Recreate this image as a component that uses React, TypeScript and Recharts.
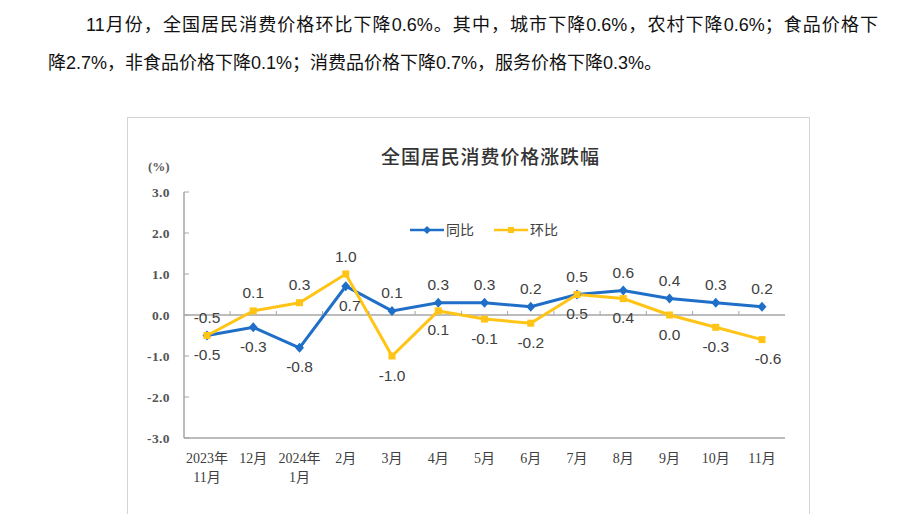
import React from "react"
import {
  LineChart,
  Line,
  XAxis,
  YAxis,
  ReferenceLine,
  LabelList,
} from "recharts"

const months = ["2023年\n11月", "12月", "2024年\n1月", "2月", "3月", "4月", "5月", "6月", "7月", "8月", "9月", "10月", "11月"]
const yoy = [-0.5, -0.3, -0.8, 0.7, 0.1, 0.3, 0.3, 0.2, 0.5, 0.6, 0.4, 0.3, 0.2]
const mom = [-0.5, 0.1, 0.3, 1.0, -1.0, 0.1, -0.1, -0.2, 0.5, 0.4, 0.0, -0.3, -0.6]
const yTicks = [-3, -2, -1, 0, 1, 2, 3]
// which labels go below the point
const yoyBelow = [true, true, true, true, false, false, false, false, false, false, false, false, false]
const momBelow = [false, false, false, false, true, true, true, true, true, true, true, true, true]

const data = months.map((m, i) => ({ m, yoy: yoy[i], mom: mom[i] }))

const BLUE = "#1f6fc8"
const YELLOW = "#ffc415"
const FRAME = "#a6a6a6"
const ZERO_Y = 74 + 123

const serif = '"Liberation Serif", "Noto Sans CJK SC", serif'
const sans = '"Liberation Sans", "Noto Sans CJK SC", sans-serif'

function YTick(props: any) {
  const { y, payload } = props
  return (
    <g>
      <line x1={56} x2={61} y1={y} y2={y} stroke={FRAME} />
      <text x={42} y={y} textAnchor="end" dominantBaseline="central" fontFamily={serif} fontSize={13.5} fontWeight={600} letterSpacing={0.4} fill="#555">
        {Number(payload.value).toFixed(1)}
      </text>
    </g>
  )
}

function XTick(props: any) {
  const { x, payload, index } = props
  const lines = String(payload.value).split("\n")
  return (
    <g>
      {index < months.length - 1 && (
        <line x1={x + 23.1} x2={x + 23.1} y1={ZERO_Y - 4} y2={ZERO_Y} stroke={FRAME} />
      )}
      {lines.map((t, i) => (
        <text key={i} x={x} y={340 + i * 19.5} textAnchor="middle" dominantBaseline="central" fontFamily={serif} fontSize={14} fill="#404040">
          {t}
        </text>
      ))}
    </g>
  )
}

function makeLabel(below: boolean[]) {
  return (props: any) => {
    const { x, y, value, index } = props
    const dy = below[index] ? 19 : -18
    const dx = below === momBelow && index === months.length - 1 ? 6 : below === yoyBelow && index === 3 ? 4 : 0
    return (
      <text x={x + dx} y={y + dy} textAnchor="middle" dominantBaseline="central" fontFamily={sans} fontSize={15.5} fill="#404040">
        {Number(value).toFixed(1)}
      </text>
    )
  }
}

function Diamond(props: any) {
  const { cx, cy } = props
  if (cx == null || cy == null) return null
  return <path d={`M${cx},${cy - 5}L${cx + 4.5},${cy}L${cx},${cy + 5}L${cx - 4.5},${cy}Z`} fill={BLUE} />
}

function Square(props: any) {
  const { cx, cy } = props
  if (cx == null || cy == null) return null
  return <rect x={cx - 3.5} y={cy - 3.5} width={7} height={7} fill={YELLOW} />
}

function LegendBox() {
  const item = (color: string, label: string, square: boolean) => (
    <div style={{ display: "flex", alignItems: "center", marginRight: 20 }}>
      <svg width={34} height={10}>
        <line x1={0} x2={34} y1={5} y2={5} stroke={color} strokeWidth={2.5} />
        {square ? (
          <rect x={14} y={2} width={6} height={6} fill={color} />
        ) : (
          <path d="M17,1L21,5L17,9L13,5Z" fill={color} />
        )}
      </svg>
      <span style={{ fontFamily: sans, fontSize: 14, color: "#404040", marginLeft: 2 }}>{label}</span>
    </div>
  )
  return (
    <div style={{ display: "flex", position: "absolute", left: 282, top: 103, lineHeight: "18px" }}>
      {item(BLUE, "同比", false)}
      {item(YELLOW, "环比", true)}
    </div>
  )
}

export default function App() {
  return (
    <div style={{ position: "relative", width: 897, height: 514, overflow: "hidden", background: "#fff" }}>
      <style>{`body{margin:0;overflow:hidden}`}</style>
      <div
        style={{
          position: "absolute",
          left: 86,
          top: 15,
          width: 792,
          fontFamily: sans,
          fontSize: 18,
          lineHeight: "20px",
          color: "#111",
          textAlign: "justify",
          textAlignLast: "justify",
          whiteSpace: "nowrap",
        }}
      >
        11月份，全国居民消费价格环比下降0.6%。其中，城市下降0.6%，农村下降0.6%；食品价格下
      </div>
      <div
        style={{
          position: "absolute",
          left: 48,
          top: 53,
          fontFamily: sans,
          fontSize: 18,
          lineHeight: "20px",
          color: "#111",
          whiteSpace: "nowrap",
        }}
      >
        降2.7%，非食品价格下降0.1%；消费品价格下降0.7%，服务价格下降0.3%。
      </div>

      <div
        style={{
          position: "absolute",
          left: 127,
          top: 117,
          width: 681,
          height: 420,
          border: "1px solid #d4d4d4",
          background: "#fff",
        }}
      >
        <div
          style={{
            position: "absolute",
            left: 253,
            top: 26,
            fontFamily: '"Noto Sans CJK SC", sans-serif',
            fontSize: 19,
            fontWeight: 500,
            letterSpacing: 0.9,
            color: "#333",
            lineHeight: "24px",
            whiteSpace: "nowrap",
          }}
        >
          全国居民消费价格涨跌幅
        </div>
        <div
          style={{
            position: "absolute",
            left: 20,
            top: 41,
            fontFamily: serif,
            fontSize: 13,
            fontWeight: 600,
            color: "#595959",
            lineHeight: "16px",
          }}
        >
          (%)
        </div>
        <LineChart width={681} height={396} data={data} margin={{ top: 74, right: 24, bottom: 26, left: 16 }}>
          <XAxis
            dataKey="m"
            interval={0}
            height={50}
            padding={{ left: 23, right: 23 }}
            axisLine={{ stroke: FRAME, strokeWidth: 1.5 }}
            tickLine={false}
            tick={<XTick />}
          />
          <XAxis
            xAxisId="top"
            orientation="top"
            dataKey="m"
            height={0}
            tick={false}
            tickLine={false}
            axisLine={{ stroke: FRAME, strokeWidth: 1.5 }}
          />
          <YAxis
            domain={[-3, 3]}
            ticks={yTicks}
            width={40}
            interval={0}
            axisLine={{ stroke: FRAME, strokeWidth: 1.5 }}
            tickLine={false}
            tick={<YTick />}
          />
          <YAxis
            yAxisId="right"
            orientation="right"
            domain={[-3, 3]}
            width={0}
            tick={false}
            tickLine={false}
            axisLine={{ stroke: FRAME, strokeWidth: 1.5 }}
          />
          <ReferenceLine y={0} stroke={FRAME} strokeWidth={1.5} />
          <Line
            type="linear"
            dataKey="yoy"
            stroke={BLUE}
            strokeWidth={3}
            dot={<Diamond />}
            activeDot={false}
            isAnimationActive={false}
          >
            <LabelList dataKey="yoy" content={makeLabel(yoyBelow)} />
          </Line>
          <Line
            type="linear"
            dataKey="mom"
            stroke={YELLOW}
            strokeWidth={3}
            dot={<Square />}
            activeDot={false}
            isAnimationActive={false}
          >
            <LabelList dataKey="mom" content={makeLabel(momBelow)} />
          </Line>
        </LineChart>
        <LegendBox />
      </div>
    </div>
  )
}
